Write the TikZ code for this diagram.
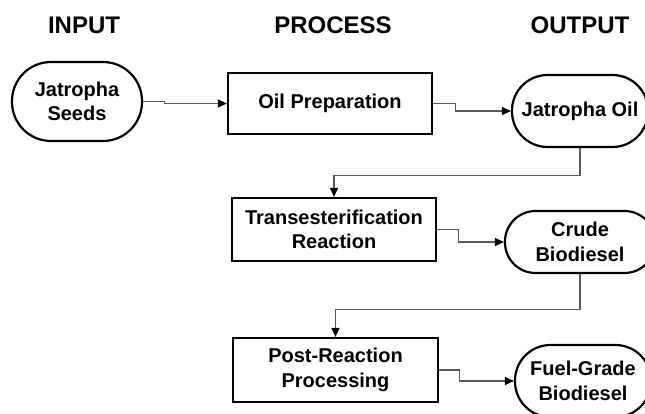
\documentclass[tikz,border=0pt]{standalone}
\usepackage{fontspec}
\setmainfont{Liberation Sans}
\usetikzlibrary{arrows.meta}
\tikzset{
  hdr/.style={font=\fontsize{24}{28}\selectfont\bfseries, inner sep=0pt},
  procbox/.style={draw=black, line width=2.2pt, rectangle, inner sep=0pt, align=center,
    font=\fontsize{20}{24.5}\selectfont\bfseries},
  stad/.style={draw=black, line width=2.2pt, rectangle, inner sep=0pt, align=center,
    font=\fontsize{20}{24.5}\selectfont\bfseries},
  conn/.style={draw=black!65, line width=1.1pt, -{Triangle[length=9pt,width=8pt,fill=black,color=black]}}
}
\begin{document}
\begin{tikzpicture}[x=1pt,y=-1pt]
\useasboundingbox (0,0) rectangle (645,414);
\clip (0,0) rectangle (645,414);
% headers
\node[hdr] (hin) at (84,25) {INPUT};
\node[hdr] (hpr) at (333,25) {PROCESS};
\node[hdr] (hout) at (580,25) {OUTPUT};
% input
\node[stad, minimum width=130pt, minimum height=79pt, rounded corners=39pt] (seeds) at (77,101.5) {Jatropha\\Seeds};
% process
\node[procbox, minimum width=204pt, minimum height=61pt] (prep) at (330,103.5) {Oil Preparation};
\node[procbox, minimum width=204pt, minimum height=63pt] (trans) at (334,229.5) {Transesterification\\Reaction};
\node[procbox, minimum width=205pt, minimum height=64pt] (post) at (335.5,370) {Post-Reaction\\Processing};
% output
\node[stad, minimum width=136pt, minimum height=72pt, rounded corners=35.5pt] (oil) at (580,111) {Jatropha Oil};
\node[stad, minimum width=150pt, minimum height=62pt, rounded corners=30.5pt] (crude) at (580,242) {Crude\\Biodiesel};
\node[stad, minimum width=136pt, minimum height=72pt, rounded corners=35.5pt] (fuel) at (583,381) {Fuel-Grade\\Biodiesel};
% connectors
\draw[conn] (seeds.east) -- ([xshift=21pt]seeds.east) |- (prep.west);
\draw[conn] (prep.east) -- ([xshift=22pt]prep.east) |- (oil.west);
\draw[conn] (oil.south) -- ([yshift=-27pt]oil.south) -| (trans.north);
\draw[conn] (trans.east) -- ([xshift=21pt]trans.east) |- (crude.west);
\draw[conn] (crude.south) -- ([yshift=-35pt]crude.south) -| (post.north);
\draw[conn] (post.east) -- ([xshift=20pt]post.east) |- (fuel.west);
\end{tikzpicture}
\end{document}
